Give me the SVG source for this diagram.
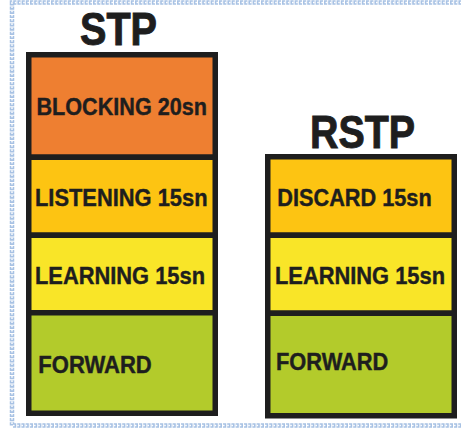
<svg xmlns="http://www.w3.org/2000/svg" width="461" height="430" viewBox="0 0 461 430">
<style>
.blk{stroke:#1e1e1e;stroke-width:5.5}
.lbl{font-family:"Liberation Sans",Arial,sans-serif;font-weight:bold;font-size:23px;fill:#1e1e1e;stroke:#1e1e1e;stroke-width:0.4}
.ttl{font-family:"Liberation Sans",Arial,sans-serif;font-weight:bold;font-size:46px;fill:#1e1e1e;stroke:#1e1e1e;stroke-width:1}
.o{fill:#ee7f31}.y1{fill:#fdc412}.y2{fill:#f9e528}.g{fill:#b3cb2b}
</style>
<rect width="461" height="430" fill="#ffffff"/>
<g id="frame">
<path d="M470 2.5 H12 V425.5 H470" fill="none" stroke="#a8c2e4" stroke-width="4.5" stroke-dasharray="3.2 1"/>
<path d="M470 2.5 H12 V425.5 H470" fill="none" stroke="#ffffff" stroke-width="1.4" stroke-dasharray="1.6 2.6"/>
</g>
<g id="stp">
<text class="ttl" x="118.5" y="45" text-anchor="middle" textLength="77" lengthAdjust="spacingAndGlyphs">STP</text>
<g id="stp-blocking"><rect class="blk o" x="28.75" y="54.75" width="186.5" height="102.5"/><text class="lbl" x="36.5" y="115" textLength="170.5" lengthAdjust="spacingAndGlyphs">BLOCKING 20sn</text></g>
<g id="stp-listening"><rect class="blk y1" x="28.75" y="157.25" width="186.5" height="78"/><text class="lbl" x="35" y="205.5" textLength="172.5" lengthAdjust="spacingAndGlyphs">LISTENING 15sn</text></g>
<g id="stp-learning"><rect class="blk y2" x="28.75" y="235.25" width="186.5" height="77.5"/><text class="lbl" x="35" y="284.3" textLength="170" lengthAdjust="spacingAndGlyphs">LEARNING 15sn</text></g>
<g id="stp-forward"><rect class="blk g" x="28.75" y="312.75" width="186.5" height="100.5"/><text class="lbl" x="38.3" y="372.7" textLength="113.4" lengthAdjust="spacingAndGlyphs">FORWARD</text></g>
</g>
<g id="rstp">
<text class="ttl" x="362.5" y="148" text-anchor="middle" textLength="105" lengthAdjust="spacingAndGlyphs">RSTP</text>
<g id="rstp-discard"><rect class="blk y1" x="267.75" y="156.75" width="186.5" height="78.5"/><text class="lbl" x="277.3" y="206" textLength="154.4" lengthAdjust="spacingAndGlyphs">DISCARD 15sn</text></g>
<g id="rstp-learning"><rect class="blk y2" x="267.75" y="235.25" width="186.5" height="78"/><text class="lbl" x="275" y="284" textLength="170" lengthAdjust="spacingAndGlyphs">LEARNING 15sn</text></g>
<g id="rstp-forward"><rect class="blk g" x="267.75" y="313.25" width="186.5" height="102.5"/><text class="lbl" x="276" y="370" textLength="112.3" lengthAdjust="spacingAndGlyphs">FORWARD</text></g>
</g>
<g id="connectors"/>
</svg>
